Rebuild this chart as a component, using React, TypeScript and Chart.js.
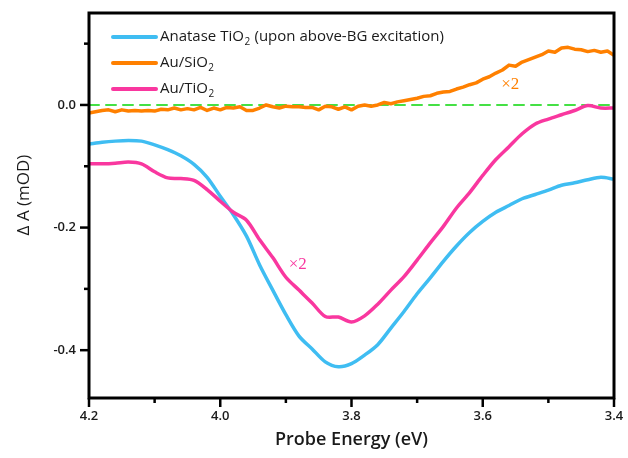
import React, { useEffect, useRef } from "react";
import { Chart, registerables } from "chart.js";

Chart.register(...registerables);

// ---- data ----
const energyGrid = [
  4.20, 4.18, 4.16, 4.14, 4.12, 4.10, 4.08, 4.06, 4.04, 4.02,
  4.00, 3.98, 3.96, 3.94, 3.92, 3.90, 3.88, 3.86, 3.84, 3.82,
  3.80, 3.78, 3.76, 3.74, 3.72, 3.70, 3.68, 3.66, 3.64, 3.62,
  3.60, 3.58, 3.56, 3.54, 3.52, 3.50, 3.48, 3.46, 3.44, 3.42,
  3.40,
];

const anataseTiO2 = [
  -0.064, -0.061, -0.059, -0.058, -0.059, -0.065, -0.073, -0.083, -0.097, -0.118,
  -0.149, -0.179, -0.214, -0.261, -0.302, -0.342, -0.377, -0.398, -0.419, -0.427,
  -0.422, -0.408, -0.391, -0.364, -0.337, -0.308, -0.282, -0.255, -0.230, -0.208,
  -0.190, -0.175, -0.164, -0.153, -0.146, -0.139, -0.131, -0.127, -0.122, -0.118,
  -0.121,
];

const auTiO2 = [
  -0.096, -0.096, -0.095, -0.093, -0.096, -0.109, -0.119, -0.120, -0.123, -0.138,
  -0.157, -0.175, -0.188, -0.220, -0.249, -0.281, -0.302, -0.323, -0.345, -0.346,
  -0.354, -0.344, -0.325, -0.302, -0.280, -0.253, -0.225, -0.198, -0.168, -0.143,
  -0.115, -0.089, -0.068, -0.047, -0.031, -0.023, -0.016, -0.009, -0.001, -0.005,
  -0.005,
];

const fineEnergy = [
  4.20, 4.19, 4.18, 4.17, 4.16, 4.15, 4.14, 4.13, 4.12, 4.11,
  4.10, 4.09, 4.08, 4.07, 4.06, 4.05, 4.04, 4.03, 4.02, 4.01,
  4.00, 3.99, 3.98, 3.97, 3.96, 3.95, 3.94, 3.93, 3.92, 3.91,
  3.90, 3.89, 3.88, 3.87, 3.86, 3.85, 3.84, 3.83, 3.82, 3.81,
  3.80, 3.79, 3.78, 3.77, 3.76, 3.75, 3.74, 3.73, 3.72, 3.71,
  3.70, 3.69, 3.68, 3.67, 3.66, 3.65, 3.64, 3.63, 3.62, 3.61,
  3.60, 3.59, 3.58, 3.57, 3.56, 3.55, 3.54, 3.53, 3.52, 3.51,
  3.50, 3.49, 3.48, 3.47, 3.46, 3.45, 3.44, 3.43, 3.42, 3.41,
  3.40,
];

const auSiO2 = [
  -0.013, -0.011, -0.009, -0.008, -0.011, -0.008, -0.010, -0.009, -0.010, -0.009,
  -0.010, -0.007, -0.008, -0.005, -0.008, -0.006, -0.008, -0.004, -0.009, -0.005,
  -0.008, -0.004, -0.005, -0.003, -0.009, -0.009, -0.005, 0.000, -0.003, -0.005,
  -0.002, -0.003, -0.003, -0.004, -0.004, -0.008, -0.002, -0.003, -0.007, -0.003,
  -0.008, -0.002, 0.000, -0.002, 0.000, 0.004, 0.002, 0.005, 0.007, 0.009,
  0.011, 0.014, 0.015, 0.019, 0.021, 0.022, 0.026, 0.029, 0.033, 0.036,
  0.042, 0.046, 0.052, 0.057, 0.065, 0.063, 0.070, 0.074, 0.078, 0.082,
  0.088, 0.086, 0.093, 0.094, 0.091, 0.090, 0.087, 0.089, 0.086, 0.088,
  0.081,
];

const zeroLineX = [4.2, 3.4];
const zeroLineY = [0, 0];

const xMajorTicks = [4.2, 4.0, 3.8, 3.6, 3.4];
const xTickLabels = ["4.2", "4.0", "3.8", "3.6", "3.4"];
const xMinorTicks = [4.1, 3.9, 3.7, 3.5];
const yMajorTicks = [0.0, -0.2, -0.4];
const yTickLabels = ["0.0", "-0.2", "-0.4"];
const yMinorTicks = [0.1, -0.1, -0.3];

const seriesColors = ["#3fbdf2", "#ff8000", "#f9379f"];
const legendParts = [
  ["Anatase TiO", "2", " (upon above-BG excitation)"],
  ["Au/SiO", "2", ""],
  ["Au/TiO", "2", ""],
];

const noteText = ["\u00d72", "\u00d72"];
const noteX = [3.558, 3.882];
const noteY = [0.034, -0.26];
const noteColors = ["#ff8000", "#f9379f"];

const xTitle = "Probe Energy (eV)";
const yTitle = "\u0394 A (mOD)";

const toPoints = (xs: number[], ys: number[]) => xs.map((x, i) => ({ x, y: ys[i] }));

const overlayPlugin = {
  id: "overlay",
  afterDatasetsDraw(chart: any) {
    const { ctx, chartArea: a, scales } = chart;
    const xs = scales.x;
    const ys = scales.y;
    ctx.save();

    // ×2 notes
    ctx.font = '17px "Liberation Serif", "DejaVu Serif", serif';
    ctx.textAlign = "center";
    ctx.textBaseline = "middle";
    noteText.forEach((t, i) => {
      ctx.fillStyle = noteColors[i];
      ctx.fillText(t, xs.getPixelForValue(noteX[i]), ys.getPixelForValue(noteY[i]));
    });

    // legend
    const legFont = '15px "Open Sans", sans-serif';
    const subFont = '10px "Open Sans", sans-serif';
    legendParts.forEach((parts, i) => {
      const yy = a.top + 24 + i * 26;
      ctx.strokeStyle = seriesColors[i];
      ctx.lineWidth = 4;
      ctx.lineCap = "round";
      ctx.beginPath();
      ctx.moveTo(a.left + 24, yy);
      ctx.lineTo(a.left + 67, yy);
      ctx.stroke();
      ctx.fillStyle = "#1a1a1a";
      ctx.textAlign = "left";
      ctx.textBaseline = "middle";
      let x = a.left + 71;
      ctx.font = legFont;
      ctx.fillText(parts[0], x, yy);
      x += ctx.measureText(parts[0]).width;
      ctx.font = subFont;
      ctx.fillText(parts[1], x + 0.5, yy + 5);
      x += ctx.measureText(parts[1]).width + 1;
      ctx.font = legFont;
      ctx.fillText(parts[2], x, yy);
    });

    // frame
    ctx.lineCap = "butt";
    ctx.strokeStyle = "#000";
    ctx.lineWidth = 3;
    ctx.strokeRect(a.left, a.top, a.right - a.left, a.bottom - a.top);

    // ticks
    ctx.lineWidth = 2.5;
    const seg = (x1: number, y1: number, x2: number, y2: number) => {
      ctx.beginPath();
      ctx.moveTo(x1, y1);
      ctx.lineTo(x2, y2);
      ctx.stroke();
    };
    xMajorTicks.forEach((v) => {
      const p = xs.getPixelForValue(v);
      seg(p, a.bottom, p, a.bottom + 9);
    });
    xMinorTicks.forEach((v) => {
      const p = xs.getPixelForValue(v);
      seg(p, a.bottom, p, a.bottom + 5);
    });
    yMajorTicks.forEach((v) => {
      const p = ys.getPixelForValue(v);
      seg(a.left, p, a.left - 9, p);
    });
    yMinorTicks.forEach((v) => {
      const p = ys.getPixelForValue(v);
      seg(a.left, p, a.left - 5, p);
    });

    // tick labels
    ctx.fillStyle = "#1a1a1a";
    ctx.font = '600 13px "Open Sans", sans-serif';
    ctx.textAlign = "center";
    ctx.textBaseline = "top";
    xMajorTicks.forEach((v, i) => {
      ctx.fillText(xTickLabels[i], xs.getPixelForValue(v), a.bottom + 12);
    });
    ctx.textAlign = "right";
    ctx.textBaseline = "middle";
    yMajorTicks.forEach((v, i) => {
      ctx.fillText(yTickLabels[i], a.left - 13, ys.getPixelForValue(v));
    });

    // axis titles
    ctx.font = '600 18px "Open Sans", sans-serif';
    ctx.textAlign = "center";
    ctx.textBaseline = "middle";
    ctx.fillText(xTitle, (a.left + a.right) / 2, 440);
    ctx.save();
    ctx.translate(24, 195);
    ctx.rotate(-Math.PI / 2);
    ctx.font = '17px "Open Sans", sans-serif';
    ctx.fillText(yTitle, 0, 0);
    ctx.restore();

    ctx.restore();
  },
};

export default function App() {
  const canvasRef = useRef<HTMLCanvasElement | null>(null);

  useEffect(() => {
    const canvas = canvasRef.current;
    if (!canvas) return;
    const chart = new Chart(canvas, {
      type: "line",
      data: {
        datasets: [
          {
            label: "Au/TiO2",
            data: toPoints(energyGrid, auTiO2),
            borderColor: seriesColors[2],
            borderWidth: 3.5,
            pointRadius: 0,
            tension: 0.3,
            order: 1,
          },
          {
            label: "Au/SiO2",
            data: toPoints(fineEnergy, auSiO2),
            borderColor: seriesColors[1],
            borderWidth: 3.5,
            pointRadius: 0,
            tension: 0,
            order: 2,
          },
          {
            label: "Anatase TiO2",
            data: toPoints(energyGrid, anataseTiO2),
            borderColor: seriesColors[0],
            borderWidth: 3.5,
            pointRadius: 0,
            tension: 0.3,
            order: 3,
          },
          {
            label: "zero",
            data: toPoints(zeroLineX, zeroLineY),
            borderColor: "#45e045",
            borderWidth: 2,
            borderDash: [10, 7],
            pointRadius: 0,
            order: 4,
          },
        ],
      },
      options: {
        responsive: false,
        animation: false,
        devicePixelRatio: 1,
        layout: { padding: { left: 89, top: 13, right: 14, bottom: 60 } },
        scales: {
          x: { type: "linear", min: 3.4, max: 4.2, reverse: true, display: false },
          y: { type: "linear", min: -0.478, max: 0.15, display: false },
        },
        plugins: {
          legend: { display: false },
          tooltip: { enabled: false },
        },
        elements: { line: { borderJoinStyle: "round", borderCapStyle: "round" } },
      },
      plugins: [overlayPlugin],
    });
    return () => chart.destroy();
  }, []);

  return (
    <div style={{ position: "fixed", left: 0, top: 0, width: 628, height: 458, background: "#fff" }}>
      <canvas ref={canvasRef} width={628} height={458} style={{ width: 628, height: 458 }} />
    </div>
  );
}
